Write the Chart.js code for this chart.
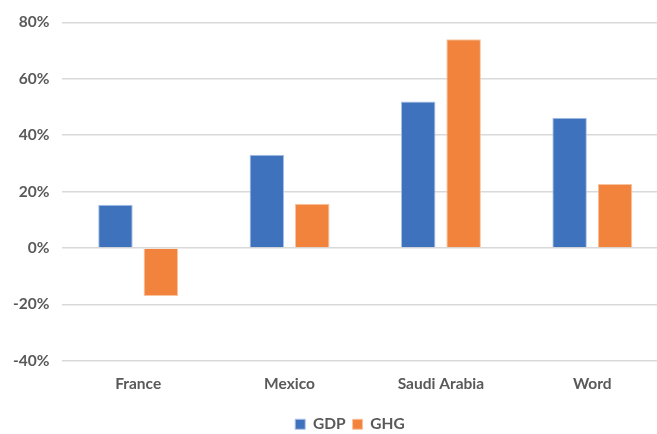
<!DOCTYPE html>
<html>
<head>
<meta charset="utf-8">
<script src="https://cdn.jsdelivr.net/npm/chart.js@4.4.0/dist/chart.umd.min.js"></script>
<style>
  html, body { margin: 0; padding: 0; background: #fff; overflow: hidden; }
  #wrap { width: 668px; height: 434px; }
</style>
</head>
<body>
<div id="wrap"><canvas id="chart" width="668" height="434"></canvas></div>
<script>
const categories = ["France", "Mexico", "Saudi Arabia", "Word"];
const gdpValues = [15.3, 33.1, 51.9, 46.2];
const ghgValues = [-17.0, 15.7, 74.0, 22.7];
const yTicks = [-40, -20, 0, 20, 40, 60, 80];

const textColor = "#595959";
const font = { family: "Lato", weight: "bold", size: 15.5 };

// nudge the legend down/right to sit where the original one is
const legendShift = {
  id: "legendShift",
  afterLayout(chart) {
    const lg = chart.legend;
    lg.top += 10;
    lg.bottom += 10;
    lg.left += 16;
    lg.right += 16;
  },
};

const ctx = document.getElementById("chart").getContext("2d");
new Chart(ctx, {
  type: "bar",
  data: {
    labels: categories,
    datasets: [
      {
        label: "GDP",
        data: gdpValues,
        backgroundColor: "#3f72bc",
        borderColor: "#a9c2e6",
        borderWidth: 1,
      },
      {
        label: "GHG",
        data: ghgValues,
        backgroundColor: "#f1833c",
        borderColor: "#f8c4a0",
        borderWidth: 1,
      },
    ],
  },
  options: {
    responsive: false,
    animation: false,
    categoryPercentage: 0.6,
    barPercentage: 0.76,
    layout: { padding: { top: 9, right: 0, left: 0, bottom: 2 } },
    plugins: {
      legend: {
        position: "bottom",
        labels: {
          color: textColor,
          font: font,
          boxWidth: 10,
          boxHeight: 10,
          padding: 7,
        },
      },
      tooltip: { enabled: false },
    },
    scales: {
      x: {
        grid: { display: false },
        border: { display: false },
        ticks: { color: textColor, font: font, padding: 6 },
      },
      y: {
        min: -40,
        max: 80,
        afterBuildTicks: (axis) => {
          axis.ticks = yTicks.map((v) => ({ value: v }));
        },
        grid: { color: "#d9d9d9", lineWidth: 1.5, drawTicks: false },
        border: { display: false },
        ticks: {
          color: textColor,
          font: font,
          padding: 13,
          callback: (v) => v + "%",
        },
      },
    },
  },
  plugins: [legendShift],
});
</script>
</body>
</html>
